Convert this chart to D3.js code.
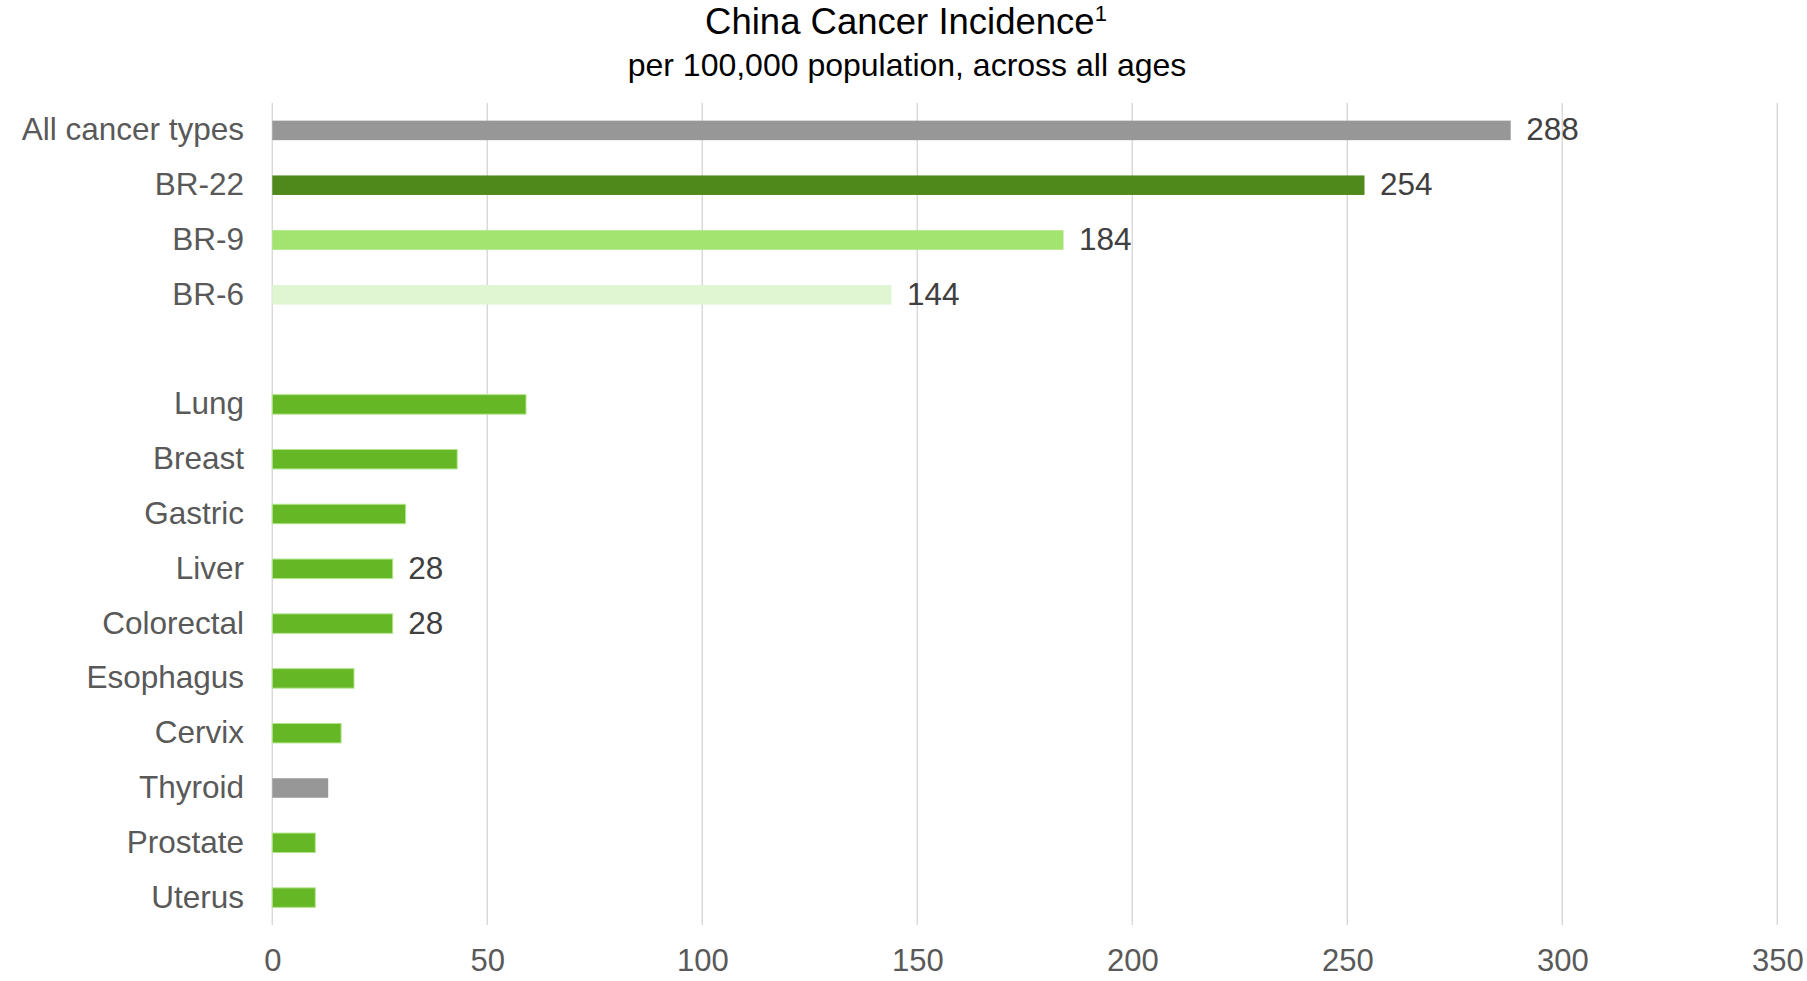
<!DOCTYPE html>
<html>
<head>
<meta charset="utf-8">
<script src="https://cdn.jsdelivr.net/npm/d3@7"></script>
<style>
  html, body { margin: 0; padding: 0; background: #ffffff; }
  svg { display: block; font-family: "Liberation Sans", Arial, sans-serif; }
</style>
</head>
<body>
<svg id="chart" width="1807" height="981"></svg>
<script>
// Incidence per 100,000 population; the empty entry is a spacer row.
const categories = ["All cancer types", "BR-22", "BR-9", "BR-6", "",
  "Lung", "Breast", "Gastric", "Liver", "Colorectal",
  "Esophagus", "Cervix", "Thyroid", "Prostate", "Uterus"];
const values = [288, 254, 184, 144, null, 59, 43, 31, 28, 28, 19, 16, 13, 10, 10];
const groups = ["total", "br22", "br9", "br6", null,
  "site", "site", "site", "site", "site", "site", "site", "total", "site", "site"];
const labelled = [true, true, true, true, false,
  false, false, false, true, true, false, false, false, false, false];
const xTicks = [0, 50, 100, 150, 200, 250, 300, 350];

const titleText = "China Cancer Incidence";
const titleNote = "1";
const subtitleText = "per 100,000 population, across all ages";

const fills = { total: "#979797", br22: "#4f891b", br9: "#a3e36f", br6: "#e0f5d2", site: "#66b726" };
const strokes = { site: "#b3e58e" };

const rows = categories.map((c, i) => ({
  key: c, value: values[i], group: groups[i], label: labelled[i]
}));

const svg = d3.select("#chart");
const plotTop = 103, plotBottom = 925, plotLeft = 272.3, plotRight = 1777.3;

const x = d3.scaleLinear().domain([0, 350]).range([plotLeft, plotRight]);
const y = d3.scaleBand().domain(categories).range([plotTop, plotBottom])
  .paddingInner(0.644).paddingOuter(0.322);

// vertical gridlines
svg.append("g").selectAll("line").data(xTicks).join("line")
  .attr("x1", d => x(d)).attr("x2", d => x(d))
  .attr("y1", plotTop).attr("y2", plotBottom)
  .attr("stroke", "#d9d9d9").attr("stroke-width", 1.5);

// bottom axis labels
const xAxis = d3.axisBottom(x).tickValues(xTicks).tickSize(0).tickPadding(0);
const gx = svg.append("g").attr("transform", `translate(0,${plotBottom})`).call(xAxis);
gx.select(".domain").remove();
gx.selectAll("text")
  .attr("dy", null).attr("y", 46)
  .attr("font-size", 31).attr("fill", "#595959")
  .attr("font-family", "Liberation Sans, Arial, sans-serif");

// category labels
const yAxis = d3.axisLeft(y).tickSize(0).tickPadding(0);
const gy = svg.append("g").attr("transform", `translate(244,0)`).call(yAxis);
gy.select(".domain").remove();
gy.selectAll("text")
  .attr("dy", null).attr("x", 0).attr("y", 10)
  .attr("font-size", 31.5).attr("fill", "#595959")
  .attr("font-family", "Liberation Sans, Arial, sans-serif");

const data = rows.filter(r => r.value != null);

// bars
svg.append("g").selectAll("rect").data(data).join("rect")
  .attr("x", x(0))
  .attr("y", d => y(d.key))
  .attr("width", d => x(d.value) - x(0))
  .attr("height", y.bandwidth())
  .attr("fill", d => fills[d.group])
  .attr("stroke", d => strokes[d.group] || "none")
  .attr("stroke-width", 1);

// value labels
svg.append("g").selectAll("text").data(data.filter(d => d.label)).join("text")
  .attr("x", d => x(d.value) + 15.5)
  .attr("y", d => y(d.key) + y.bandwidth() / 2 + 10)
  .attr("font-size", 31.5)
  .attr("fill", "#404040")
  .text(d => d.value);

// title and subtitle
const title = svg.append("text")
  .attr("x", 906).attr("y", 34)
  .attr("text-anchor", "middle")
  .attr("font-size", 36.5).attr("fill", "#000000");
title.append("tspan").text(titleText);
title.append("tspan").attr("font-size", 22).attr("dy", -13).text(titleNote);

svg.append("text")
  .attr("x", 907).attr("y", 76)
  .attr("text-anchor", "middle")
  .attr("font-size", 32).attr("fill", "#000000")
  .text(subtitleText);
</script>
</body>
</html>
